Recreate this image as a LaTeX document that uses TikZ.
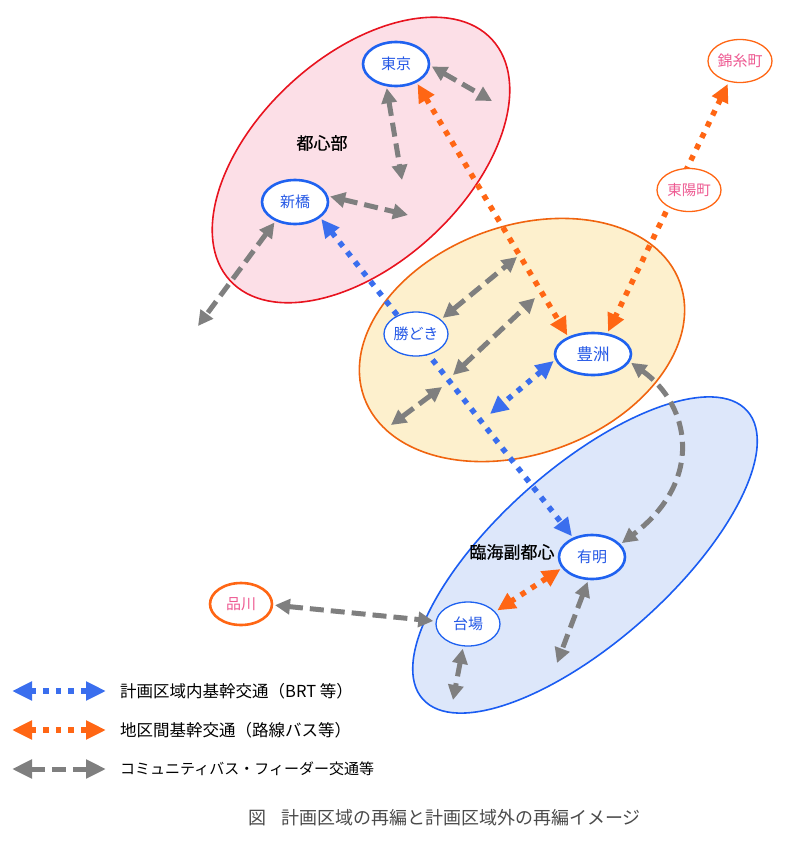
\documentclass[tikz,border=0pt]{standalone}
\usepackage{fontspec}
\newfontfamily\jp{Noto Sans CJK JP}
\newfontfamily\jpm{Noto Sans CJK JP}[FakeBold=0.6]
\usetikzlibrary{arrows.meta,shapes.geometric}
\pgfdeclarelayer{bg}
\pgfdeclarelayer{mid}
\pgfsetlayers{bg,mid,main}
\definecolor{pinkfill}{HTML}{FCDFE7}
\definecolor{redline}{HTML}{E8131F}
\definecolor{yelfill}{HTML}{FDF0CD}
\definecolor{orline}{HTML}{F0640F}
\definecolor{bluefill}{HTML}{DDE7FA}
\definecolor{blueline}{HTML}{1A5CF2}
\definecolor{stnblue}{HTML}{1F62F0}
\definecolor{stntxt}{HTML}{2458E6}
\definecolor{brt}{HTML}{3A6EEE}
\definecolor{orng}{HTML}{FF6614}
\definecolor{grayc}{HTML}{7F7F7F}
\definecolor{pinktxt}{HTML}{EE5A92}
\definecolor{captxt}{HTML}{4A4A4A}
\begin{document}
\begin{tikzpicture}[x=1pt,y=1pt,
  region/.style={ellipse, inner sep=0pt, line width=1.6pt},
  stn/.style={ellipse, fill=white, draw=stnblue, line width=2.6pt, inner sep=0pt, outer sep=3pt,
    text=stntxt, font=\jp\fontsize{15}{18}\selectfont, minimum width=66pt, minimum height=44pt},
  stnthin/.style={stn, line width=1.3pt},
  ostn/.style={stn, draw=orng, text=pinktxt, minimum width=64pt, minimum height=43pt},
  ostnthin/.style={ostn, line width=1.3pt},
  reglabel/.style={font=\jpm\fontsize{17}{20}\selectfont, text=black, inner sep=0pt},
  legtext/.style={font=\jp\fontsize{16.5}{19}\selectfont, text=black, anchor=west, inner sep=0pt},
  graya/.style={draw=grayc, line width=5pt, dash pattern=on 14pt off 7pt, >={Triangle[length=15pt,width=15pt]}, <->},
  brta/.style={draw=brt, line width=5.5pt, dash pattern=on 5.5pt off 7pt, >={Triangle[length=18pt,width=17pt]}, <->},
  orga/.style={draw=orng, line width=5.5pt, dash pattern=on 5.5pt off 7pt, >={Triangle[length=18pt,width=17pt]}, <->},
  legbig/.style={>={Triangle[length=20pt,width=18pt]}}
]
\useasboundingbox (0,0) rectangle (800,-841);

% regions
\begin{pgfonlayer}{bg}
\node[region, fill=pinkfill, draw=redline, minimum width=356pt, minimum height=208pt, rotate=42.6] (toshin) at (361,-160) {};
\node[region, fill=yelfill, draw=orline, minimum width=336pt, minimum height=228pt, rotate=20] (mid) at (522,-340) {};
\node[region, fill=bluefill, draw=blueline, minimum width=434pt, minimum height=174pt, rotate=41.6] (rinkai) at (585,-555) {};
\end{pgfonlayer}

% stations
\node[stn] (tokyo) at (396,-64) {東京};
\node[stn] (shinbashi) at (295,-202) {新橋};
\node[stnthin, minimum width=64pt] (kachidoki) at (416,-334) {勝どき};
\node[stn, minimum width=76pt, minimum height=42pt, font=\jp\fontsize{16.5}{19}\selectfont] (toyosu) at (593,-354) {豊洲};
\node[stn] (ariake) at (592,-557) {有明};
\node[stnthin, minimum width=64pt] (daiba) at (468,-624) {台場};
\node[ostn, minimum width=62pt, minimum height=42pt] (shinagawa) at (241,-604) {品川};
\node[ostnthin, font=\jp\fontsize{14.5}{17}\selectfont] (toyocho) at (689,-190) {東陽町};
\node[ostnthin] (kinshicho) at (740,-61) {錦糸町};

% region labels
\node[reglabel] (lbl1) at (322,-143) {都心部};
\node[reglabel] (lbl2) at (512,-552) {臨海副都心};

% free ends
\coordinate (g1e) at (492,-101);
\coordinate (g2e) at (402,-180);
\coordinate (g3e) at (408,-215);
\coordinate (g4e) at (198,-326);
\coordinate (g5e) at (517,-257);
\coordinate (g6a) at (453,-375);
\coordinate (g6b) at (535,-298);
\coordinate (g7a) at (391,-425);
\coordinate (g7b) at (442,-387);
\coordinate (g10e) at (453,-700);
\coordinate (g11e) at (557,-663);
\coordinate (b2e) at (490,-414);

\begin{pgfonlayer}{mid}
% gray community bus
\draw[graya] (tokyo.-4) -- (g1e);
\draw[graya] (tokyo.-111) -- (g2e);
\draw[graya] (shinbashi.9) -- (g3e);
\draw[graya] (shinbashi.-135) -- (g4e);
\draw[graya] (kachidoki.31) -- (g5e);
\draw[graya] (g6a) -- (g6b);
\draw[graya] (g7a) -- (g7b);
\draw[graya] (toyosu.-13) .. controls (690,-405) and (705,-480) .. (ariake.25);
\draw[graya] (shinagawa.-2) -- (daiba.175);
\draw[graya] (daiba.-102) -- (g10e);
\draw[graya] (ariake.-100) -- (g11e);
% BRT
\draw[brta] (shinbashi.-33) -- (ariake.134);
\draw[brta] (toyosu.190) -- (b2e);
% orange inter-district
\draw[orga] (tokyo.-43) -- (toyosu.144);
\draw[orga] (kinshicho.-118) -- (toyosu.56);
\draw[orga] (ariake.201) -- (daiba.25);
\end{pgfonlayer}

% legend
\coordinate (l1a) at (12,-691);
\coordinate (l1b) at (106,-691);
\coordinate (l2a) at (12,-730);
\coordinate (l2b) at (106,-730);
\coordinate (l3a) at (12,-769);
\coordinate (l3b) at (106,-769);
\draw[brta, legbig] (l1a) -- (l1b);
\draw[orga, legbig] (l2a) -- (l2b);
\draw[graya, legbig] (l3a) -- (l3b);
\node[legtext] (t1) at (120,-691) {計画区域内基幹交通（BRT 等）};
\node[legtext] (t2) at (120,-730) {地区間基幹交通（路線バス等）};
\node[legtext, font=\jp\fontsize{15}{18}\selectfont] (t3) at (120,-769) {コミュニティバス・フィーダー交通等};

% caption
\node[font=\jp\fontsize{18}{21}\selectfont, text=captxt, anchor=west, inner sep=0pt] (cap) at (248,-818) {図\hspace{15pt}計画区域の再編と計画区域外の再編イメージ};
\end{tikzpicture}
\end{document}
